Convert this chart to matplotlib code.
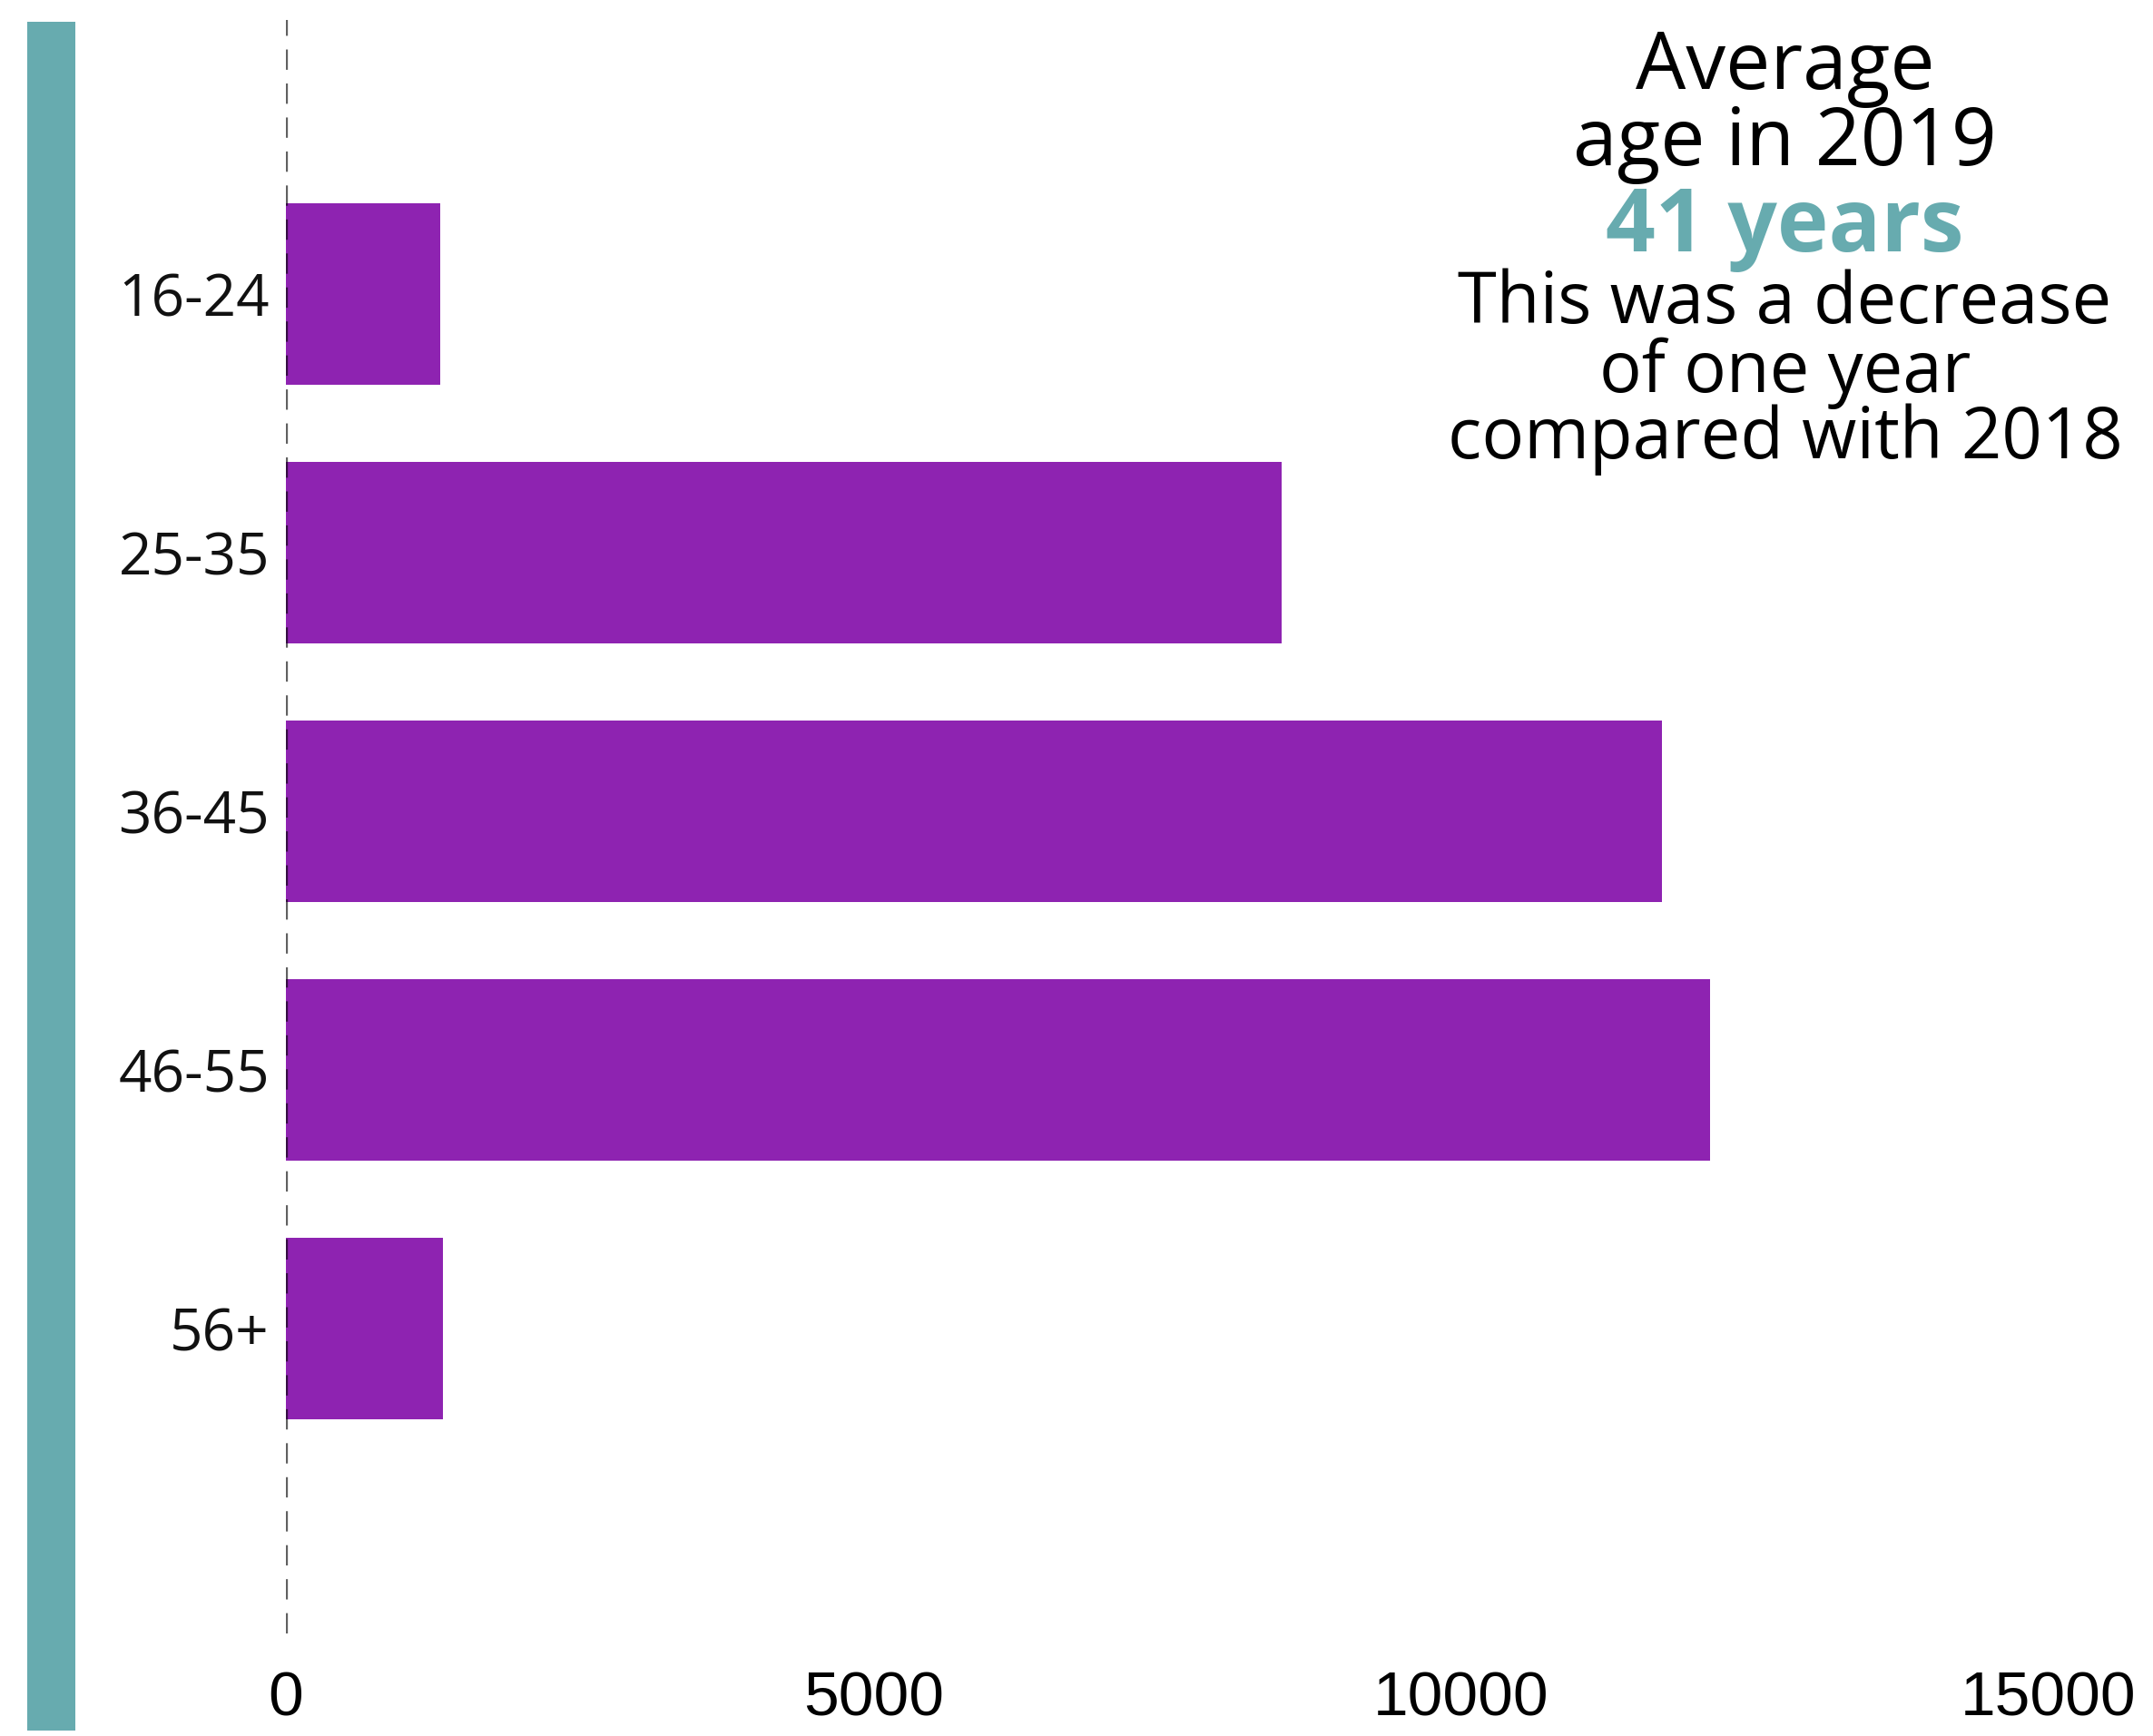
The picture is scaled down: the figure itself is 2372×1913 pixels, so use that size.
import matplotlib
matplotlib.use("Agg")
import matplotlib.pyplot as plt
from matplotlib.patches import Rectangle

age_groups = ["16-24", "25-35", "36-45", "46-55", "56+"]
counts = [1310, 8470, 11710, 12120, 1340]
x_ticks = [0, 5000, 10000, 15000]

purple = "#8E23B1"
teal = "#67ABAF"
label_font = "Open Sans"

fig = plt.figure(figsize=(23.72, 19.13), dpi=100)
ax = fig.add_axes([0.1328, 0.059, 0.8187, 0.9295])

pos = list(range(len(age_groups)))
ax.barh(pos, counts, height=0.7, color=purple, zorder=2)
ax.axvline(0, color="black", alpha=0.62, lw=3.1, dashes=(5.2, 3.5), zorder=3)

ax.set_xlim(0, 15000)
ax.set_ylim(5.18, -1.06)
ax.set_yticks(pos)
ax.set_yticklabels(age_groups, fontsize=46, family=label_font, color="#111111")
ax.set_xticks(x_ticks)
ax.set_xticklabels([str(v) for v in x_ticks], fontsize=50, family="Liberation Sans")
ax.tick_params(axis="y", length=0, pad=13)
ax.tick_params(axis="x", length=0, pad=29)
for s in ax.spines.values():
    s.set_visible(False)

# teal band on the left
fig.add_artist(Rectangle((0.01265, 0.0031), 0.02234, 0.9843,
                         transform=fig.transFigure, color=teal, lw=0))

# annotation block
cx = 0.829
fig.text(cx, 0.949, "Average", ha="center", va="baseline", fontsize=63, family=label_font)
fig.text(cx, 0.905, "age in 2019", ha="center", va="baseline", fontsize=63, family=label_font)
fig.text(cx, 0.855, "41 years", ha="center", va="baseline", fontsize=69, family=label_font,
         weight="bold", color=teal)
fig.text(cx, 0.814, "This was a decrease", ha="center", va="baseline", fontsize=56, family=label_font)
fig.text(cx, 0.774, "of one year", ha="center", va="baseline", fontsize=56, family=label_font)
fig.text(cx, 0.736, "compared with 2018", ha="center", va="baseline", fontsize=56, family=label_font)

fig.savefig("out.png", dpi=100, facecolor="white")
